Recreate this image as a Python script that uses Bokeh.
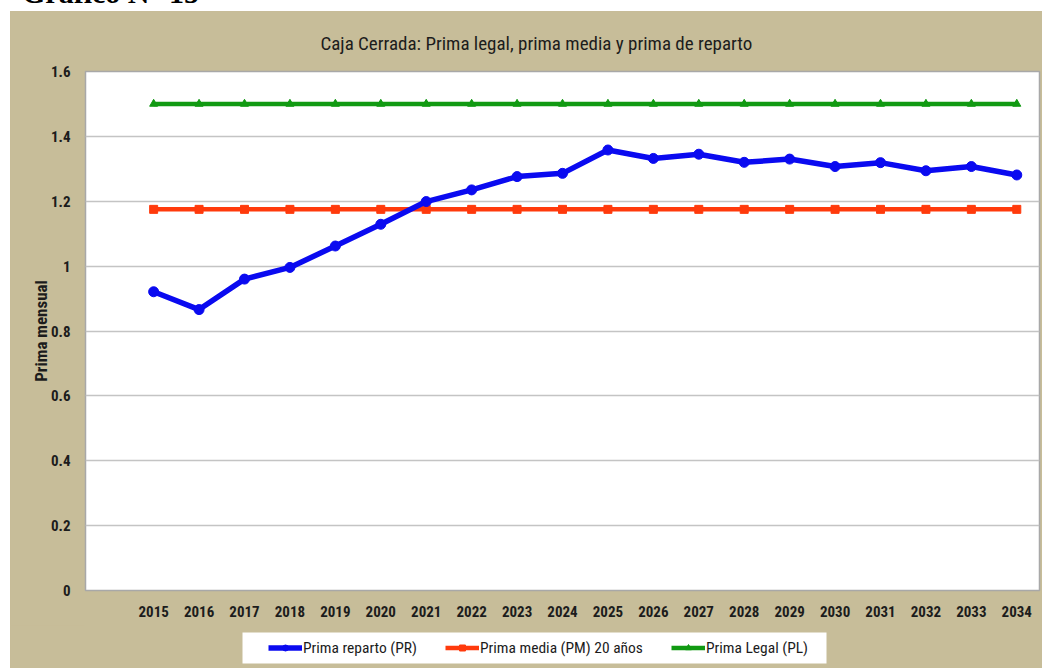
from bokeh.plotting import figure
from bokeh.models import (FixedTicker, Legend, LegendItem, Title, Range1d, Div, Spacer, BoxAnnotation)
from bokeh.layouts import column, row
from bokeh.embed import file_html
from bokeh.resources import INLINE

# ---- data ----
years = [2015, 2016, 2017, 2018, 2019, 2020, 2021, 2022, 2023, 2024,
         2025, 2026, 2027, 2028, 2029, 2030, 2031, 2032, 2033, 2034]
prima_reparto = [0.921, 0.866, 0.960, 0.996, 1.062, 1.129, 1.199, 1.235, 1.276, 1.286,
                 1.358, 1.332, 1.345, 1.320, 1.330, 1.307, 1.319, 1.294, 1.307, 1.281]
prima_media = [1.175, 1.175, 1.175, 1.175, 1.175, 1.175, 1.175, 1.175, 1.175, 1.175,
               1.175, 1.175, 1.175, 1.175, 1.175, 1.175, 1.175, 1.175, 1.175, 1.175]
prima_legal = [1.5, 1.5, 1.5, 1.5, 1.5, 1.5, 1.5, 1.5, 1.5, 1.5,
               1.5, 1.5, 1.5, 1.5, 1.5, 1.5, 1.5, 1.5, 1.5, 1.5]
y_ticks = [0, 0.2, 0.4, 0.6, 0.8, 1.0, 1.2, 1.4, 1.6]
y_tick_labels = ["0", "0.2", "0.4", "0.6", "0.8", "1", "1.2", "1.4", "1.6"]
header_text = "Gráfico N° 15"
title_text = "Caja Cerrada: Prima legal, prima media y prima de reparto"
y_label = "Prima mensual"
series_labels = ["Prima reparto (PR)", "Prima media (PM) 20 años", "Prima Legal (PL)"]

FONT = "'Liberation Sans Narrow', 'Arial Narrow', 'Roboto Condensed', 'DejaVu Sans Condensed', sans-serif"
TAN = "#c7bd99"
TXT = "#1c1c1c"
BLUE, RED, GREEN = "#0a0af0", "#ff3a0c", "#119a12"

# ---------------- main chart ----------------
p = figure(width=1032, height=614, output_backend="svg", toolbar_location=None,
           x_range=Range1d(2013.5, 2034.5), y_range=Range1d(0, 1.6),
           min_border_left=75, min_border_right=3, min_border_top=60, min_border_bottom=35)

p.border_fill_color = TAN
p.background_fill_color = "white"
p.outline_line_color = "#a8a8a8"
p.outline_line_width = 1.5

p.xaxis.ticker = FixedTicker(ticks=years)
p.yaxis.ticker = FixedTicker(ticks=y_ticks)
p.yaxis.major_label_overrides = {t: l for t, l in zip(y_ticks, y_tick_labels)}
for ax in (p.xaxis[0], p.yaxis[0]):
    ax.axis_line_color = None
    ax.major_tick_line_color = None
    ax.major_tick_out = 0
    ax.major_tick_in = 0
    ax.minor_tick_line_color = None
    ax.minor_tick_out = 0
    ax.minor_tick_in = 0
    ax.major_label_text_font = FONT
    ax.major_label_text_font_style = "bold"
    ax.major_label_text_font_size = "15px"
    ax.major_label_text_color = TXT
p.xaxis.major_label_standoff = 15
p.yaxis.major_label_standoff = 15
p.yaxis.axis_label = y_label
p.yaxis.axis_label_text_font = FONT
p.yaxis.axis_label_text_font_style = "bold"
p.yaxis.axis_label_text_font_size = "17px"
p.yaxis.axis_label_text_color = TXT
p.yaxis.axis_label_standoff = -3

p.xgrid.grid_line_color = None
p.ygrid.grid_line_color = "#c4c4c4"
p.ygrid.grid_line_width = 1.5

p.line(years, prima_legal, line_color=GREEN, line_width=4.5)
p.scatter(years, prima_legal, marker="triangle", size=8, fill_color=GREEN, line_color=GREEN)
p.line(years, prima_media, line_color=RED, line_width=4.5)
p.scatter(years, prima_media, marker="square", size=8, fill_color=RED, line_color=RED)
p.line(years, prima_reparto, line_color=BLUE, line_width=5.5)
p.scatter(years, prima_reparto, marker="circle", size=10, fill_color=BLUE, line_color=BLUE)

title = Title(text=title_text, align="left", offset=235, standoff=34,
              text_font=FONT, text_font_size="19px", text_font_style="normal",
              text_color=TXT)
p.add_layout(title, "above")

# ---------------- legend strip (same series; the strip's ranges keep them out of view) ----------------
lg = figure(width=1032, height=43, output_backend="svg", toolbar_location=None,
            x_axis_type=None, y_axis_type=None,
            x_range=Range1d(0, 954), y_range=Range1d(0, 43),
            min_border_left=75, min_border_right=3, min_border_top=0, min_border_bottom=0)
lg.border_fill_color = TAN
lg.background_fill_color = TAN
lg.outline_line_color = TAN
lg.outline_line_width = 3
lg.grid.visible = False

# white legend panel
lg.add_layout(BoxAnnotation(left=157, right=741, bottom=5, top=36,
                            fill_color="white", fill_alpha=1, line_color=None))

k1 = lg.line(years, prima_reparto, line_color=BLUE, line_width=5.5)
m1 = lg.scatter(years, prima_reparto, marker="circle", size=10, fill_color=BLUE, line_color=BLUE)
k2 = lg.line(years, prima_media, line_color=RED, line_width=4.5)
m2 = lg.scatter(years, prima_media, marker="square", size=8, fill_color=RED, line_color=RED)
k3 = lg.line(years, prima_legal, line_color=GREEN, line_width=4.5)
m3 = lg.scatter(years, prima_legal, marker="triangle", size=8, fill_color=GREEN, line_color=GREEN)

legend = Legend(items=[LegendItem(label=series_labels[0], renderers=[k1, m1]),
                       LegendItem(label=series_labels[1], renderers=[k2, m2]),
                       LegendItem(label=series_labels[2], renderers=[k3, m3])],
                orientation="horizontal", location=(183, 5))
legend.label_text_font = FONT
legend.label_text_font_size = "15.5px"
legend.label_text_color = TXT
legend.glyph_width = 34
legend.glyph_height = 15
legend.label_height = 31
legend.label_standoff = 1
legend.spacing = 28
legend.padding = 0
legend.margin = 0
legend.background_fill_alpha = 0
legend.border_line_color = None
lg.add_layout(legend)

header = Div(text=("<div style=\"position:relative; top:-22px; left:22px; white-space:nowrap; "
                   "font-family:'Liberation Serif','Times New Roman',serif; font-weight:bold; "
                   "font-size:30px; line-height:30px; color:#000;\">" + header_text + "</div>"),
             width=1042, height=11, margin=0, styles={"overflow": "hidden"})

panel = column(p, lg, spacing=0, styles={"background-color": TAN})
layout = column(header,
                row(Spacer(width=10, height=657, margin=0), panel, spacing=0),
                spacing=0)

open("out.html", "w").write(file_html(layout, INLINE))
